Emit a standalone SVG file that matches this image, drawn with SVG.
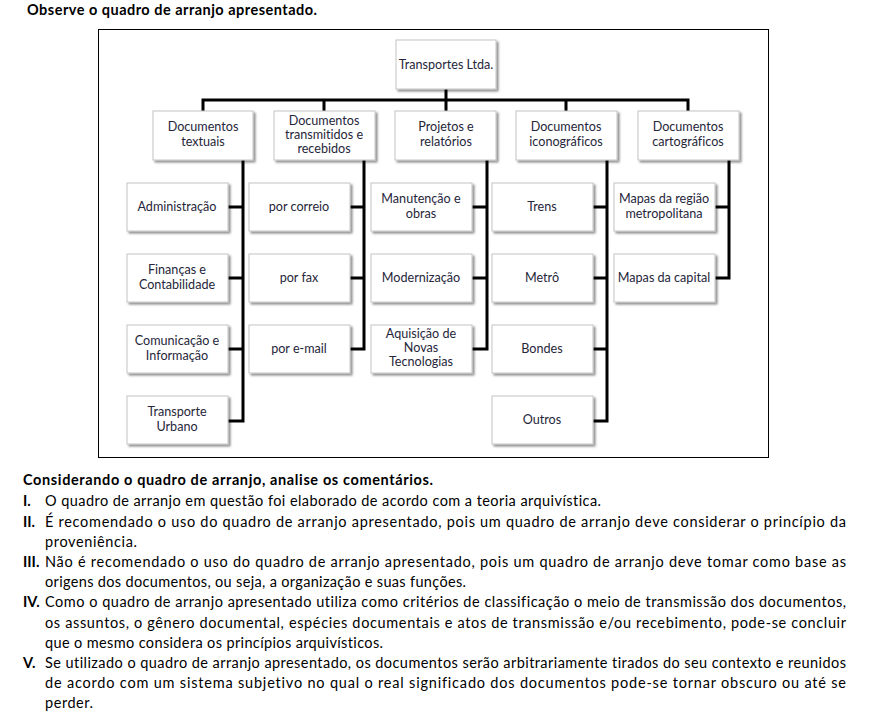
<svg xmlns="http://www.w3.org/2000/svg" width="871" height="719" viewBox="0 0 871 719">
<style>
  text { font-variant-ligatures: none; }
  .bx { fill: #ffffff; stroke: #c4c4c4; stroke-width: 1; filter: url(#sh); }
  .bt { font-family: Lato, "Liberation Sans", sans-serif; font-size: 12.6px; fill: #26263a; text-anchor: middle; }
  .cn { stroke: #000; stroke-width: 3; fill: none; stroke-linecap: butt; }
  .hd { font-family: Lato, "Liberation Sans", sans-serif; font-size: 14.5px; font-weight: bold; fill: #000; }
  .tx { font-family: Lato, "Liberation Sans", sans-serif; font-size: 14.5px; fill: #000; }
  .nm { font-family: Lato, "Liberation Sans", sans-serif; font-size: 14.5px; font-weight: bold; fill: #000; }
</style>
<defs>
  <filter id="sh" x="-10%" y="-10%" width="130%" height="140%">
    <feDropShadow dx="2" dy="2" stdDeviation="1" flood-color="#000" flood-opacity="0.45"/>
  </filter>
</defs>
<rect width="871" height="719" fill="#fff"/>
<text class="hd" x="27" y="15" textLength="290">Observe o quadro de arranjo apresentado.</text>
<rect x="98.5" y="29.5" width="670" height="428" fill="none" stroke="#000" stroke-width="1"/>

<g id="connectors">
  <path class="cn" d="M446 89 V100 M201.5 100 H689.5 M203 100 V111 M324 100 V111 M446 100 V111 M566 100 V111 M688 100 V111"/>
  <path class="cn" d="M243 160 V422.5 M228 207 H243 M228 278 H243 M228 349 H243 M228 421 H243"/>
  <path class="cn" d="M364 160 V350.5 M350 207 H364 M350 278 H364 M350 349 H364"/>
  <path class="cn" d="M487 160 V350.5 M472 207 H487 M472 278 H487 M472 349 H487"/>
  <path class="cn" d="M607 160 V422.5 M593 207 H607 M593 278 H607 M593 349 H607 M593 421 H607"/>
  <path class="cn" d="M729 160 V279.5 M715 207 H729 M715 278 H729"/>
</g>

<g id="n-root"><rect class="bx" x="396" y="40" width="100" height="49"/><text class="bt" x="446" y="69">Transportes Ltda.</text></g>

<g id="n-textuais"><rect class="bx" x="153" y="111" width="100" height="49"/><text class="bt" x="203" y="131">Documentos</text><text class="bt" x="203" y="146">textuais</text></g>
<g id="n-transmitidos"><rect class="bx" x="274" y="111" width="101" height="49"/><text class="bt" x="324" y="125">Documentos</text><text class="bt" x="324" y="139">transmitidos e</text><text class="bt" x="324" y="153">recebidos</text></g>
<g id="n-projetos"><rect class="bx" x="395" y="111" width="101" height="49"/><text class="bt" x="446" y="131">Projetos e</text><text class="bt" x="446" y="146">relatórios</text></g>
<g id="n-iconograficos"><rect class="bx" x="516" y="111" width="101" height="49"/><text class="bt" x="566" y="131">Documentos</text><text class="bt" x="566" y="146">iconográficos</text></g>
<g id="n-cartograficos"><rect class="bx" x="638" y="111" width="101" height="49"/><text class="bt" x="688" y="131">Documentos</text><text class="bt" x="688" y="146">cartográficos</text></g>

<g id="n-administracao"><rect class="bx" x="127" y="183" width="101" height="48"/><text class="bt" x="177" y="211">Administração</text></g>
<g id="n-financas"><rect class="bx" x="127" y="254" width="101" height="48"/><text class="bt" x="177" y="274">Finanças e</text><text class="bt" x="177" y="289">Contabilidade</text></g>
<g id="n-comunicacao"><rect class="bx" x="127" y="325" width="101" height="48"/><text class="bt" x="177" y="345">Comunicação e</text><text class="bt" x="177" y="360">Informação</text></g>
<g id="n-transporte"><rect class="bx" x="127" y="396" width="101" height="48"/><text class="bt" x="177" y="416">Transporte</text><text class="bt" x="177" y="431">Urbano</text></g>

<g id="n-correio"><rect class="bx" x="249" y="183" width="101" height="48"/><text class="bt" x="299" y="211">por correio</text></g>
<g id="n-fax"><rect class="bx" x="249" y="254" width="101" height="48"/><text class="bt" x="299" y="282">por fax</text></g>
<g id="n-email"><rect class="bx" x="249" y="325" width="101" height="48"/><text class="bt" x="299" y="353">por e-mail</text></g>

<g id="n-manutencao"><rect class="bx" x="371" y="183" width="101" height="48"/><text class="bt" x="421" y="203">Manutenção e</text><text class="bt" x="421" y="218">obras</text></g>
<g id="n-modernizacao"><rect class="bx" x="371" y="254" width="101" height="48"/><text class="bt" x="421" y="282">Modernização</text></g>
<g id="n-aquisicao"><rect class="bx" x="371" y="325" width="101" height="48"/><text class="bt" x="421" y="338">Aquisição de</text><text class="bt" x="421" y="352">Novas</text><text class="bt" x="421" y="366">Tecnologias</text></g>

<g id="n-trens"><rect class="bx" x="492" y="183" width="101" height="48"/><text class="bt" x="542" y="211">Trens</text></g>
<g id="n-metro"><rect class="bx" x="492" y="254" width="101" height="48"/><text class="bt" x="542" y="282">Metrô</text></g>
<g id="n-bondes"><rect class="bx" x="492" y="325" width="101" height="48"/><text class="bt" x="542" y="353">Bondes</text></g>
<g id="n-outros"><rect class="bx" x="492" y="396" width="101" height="48"/><text class="bt" x="542" y="424">Outros</text></g>

<g id="n-mapas-regiao"><rect class="bx" x="614" y="183" width="101" height="48"/><text class="bt" x="664" y="203">Mapas da região</text><text class="bt" x="664" y="218">metropolitana</text></g>
<g id="n-mapas-capital"><rect class="bx" x="614" y="254" width="101" height="48"/><text class="bt" x="664" y="282">Mapas da capital</text></g>

<text class="hd" x="23" y="485" textLength="410">Considerando o quadro de arranjo, analise os comentários.</text>
<text class="nm" x="23" y="506">I.</text>
<text class="tx" x="45" y="506" textLength="556">O quadro de arranjo em questão foi elaborado de acordo com a teoria arquivística.</text>
<text class="nm" x="23" y="527">II.</text>
<text class="tx" x="45" y="527" textLength="801">É recomendado o uso do quadro de arranjo apresentado, pois um quadro de arranjo deve considerar o princípio da</text>
<text class="tx" x="45" y="547" textLength="92">proveniência.</text>
<text class="nm" x="23" y="567">III.</text>
<text class="tx" x="45" y="567" textLength="801">Não é recomendado o uso do quadro de arranjo apresentado, pois um quadro de arranjo deve tomar como base as</text>
<text class="tx" x="45" y="587" textLength="421">origens dos documentos, ou seja, a organização e suas funções.</text>
<text class="nm" x="23" y="607">IV.</text>
<text class="tx" x="45" y="607" textLength="801">Como o quadro de arranjo apresentado utiliza como critérios de classificação o meio de transmissão dos documentos,</text>
<text class="tx" x="45" y="628" textLength="801">os assuntos, o gênero documental, espécies documentais e atos de transmissão e/ou recebimento, pode-se concluir</text>
<text class="tx" x="45" y="648" textLength="338">que o mesmo considera os princípios arquivísticos.</text>
<text class="nm" x="23" y="668">V.</text>
<text class="tx" x="45" y="668" textLength="801">Se utilizado o quadro de arranjo apresentado, os documentos serão arbitrariamente tirados do seu contexto e reunidos</text>
<text class="tx" x="45" y="688" textLength="801">de acordo com um sistema subjetivo no qual o real significado dos documentos pode-se tornar obscuro ou até se</text>
<text class="tx" x="45" y="708" textLength="48">perder.</text>
</svg>
